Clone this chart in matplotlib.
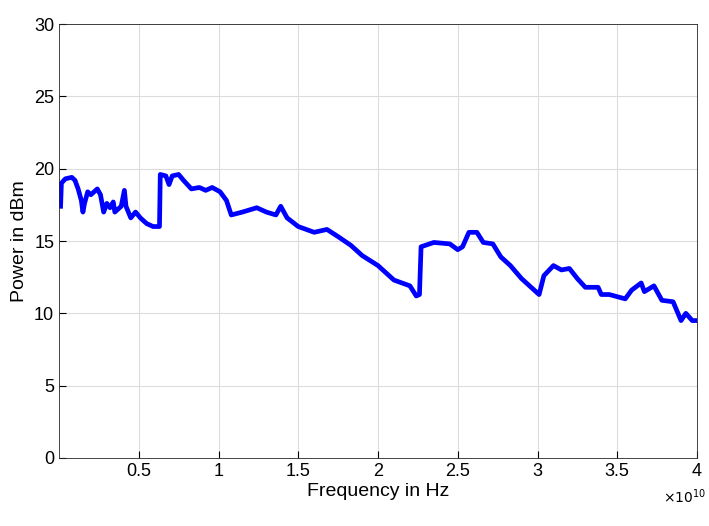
import matplotlib
matplotlib.use('Agg')
import matplotlib.pyplot as plt
import numpy as np

plt.rcParams['font.family'] = ['Liberation Sans', 'DejaVu Sans']

freq_ghz = [0.1, 0.15, 0.4, 0.8, 1.0, 1.2, 1.4, 1.5, 1.6, 1.8, 2.0, 2.2, 2.4, 2.6, 2.8, 3.0, 3.2, 3.4,
            3.5, 3.7, 3.9, 4.1, 4.2, 4.5, 4.8, 5.1, 5.5, 5.9, 6.3, 6.35, 6.7, 6.9, 7.1, 7.5, 7.8, 8.3,
            8.8, 9.2, 9.6, 10.1, 10.5, 10.8, 11.5, 12.4, 13.0, 13.6, 13.9, 14.3, 15.0, 16.0, 16.8,
            17.5, 18.3, 19.0, 20.0, 21.0, 22.0, 22.4, 22.6, 22.7, 23.5, 24.5, 25.0, 25.3, 25.7, 26.2,
            26.6, 27.2, 27.7, 28.3, 29.0, 29.8, 30.1, 30.4, 31.0, 31.5, 32.0, 32.5, 33.0, 33.8, 34.0,
            34.5, 35.5, 35.9, 36.5, 36.7, 37.3, 37.8, 38.5, 39.0, 39.3, 39.7, 40.0]
power_dbm = [17.4, 19.0, 19.3, 19.4, 19.2, 18.6, 17.8, 17.0, 17.6, 18.4, 18.2, 18.4, 18.6, 18.2, 17.0, 17.6,
             17.3, 17.7, 17.0, 17.2, 17.4, 18.5, 17.4, 16.6, 17.0, 16.6, 16.2, 16.0, 16.0, 19.6, 19.5,
             18.9, 19.5, 19.6, 19.2, 18.6, 18.7, 18.5, 18.7, 18.4, 17.8, 16.8, 17.0, 17.3, 17.0, 16.8,
             17.4, 16.6, 16.0, 15.6, 15.8, 15.3, 14.7, 14.0, 13.3, 12.3, 11.9, 11.2, 11.3, 14.6, 14.9,
             14.8, 14.4, 14.6, 15.6, 15.6, 14.9, 14.8, 13.9, 13.3, 12.4, 11.6, 11.3, 12.6, 13.3, 13.0,
             13.1, 12.4, 11.8, 11.8, 11.3, 11.3, 11.0, 11.6, 12.1, 11.5, 11.9, 10.9, 10.8, 9.5, 10.0,
             9.5, 9.5]

freq = np.array(freq_ghz) * 1e9

fig = plt.figure(figsize=(7.09, 5.26), dpi=100)
ax = fig.add_axes([59 / 709, 1 - 458 / 526, 638 / 709, 434 / 526])
ax.plot(freq, power_dbm, color='#0000ff', lw=3.4)
ax.set_xlim(0, 4e10)
ax.set_ylim(0, 30)
ax.set_xticks([0.5e10, 1e10, 1.5e10, 2e10, 2.5e10, 3e10, 3.5e10, 4e10])
ax.set_xticklabels(['0.5', '1', '1.5', '2', '2.5', '3', '3.5', '4'])
ax.set_yticks(range(0, 31, 5))
ax.grid(color='#dcdcdc', lw=0.8)
ax.tick_params(direction='in', labelsize=13, length=5)
for s in ax.spines.values():
    s.set_color('#262626')
    s.set_linewidth(0.6)
ax.set_xlabel('Frequency in Hz', fontsize=14, labelpad=2)
ax.set_ylabel('Power in dBm', fontsize=14, labelpad=4)
fig.text(706 / 709, 1 - 497 / 526, r'$\times10^{10}$', fontsize=10, ha='right', va='center')
fig.savefig('out.png', dpi=100)
